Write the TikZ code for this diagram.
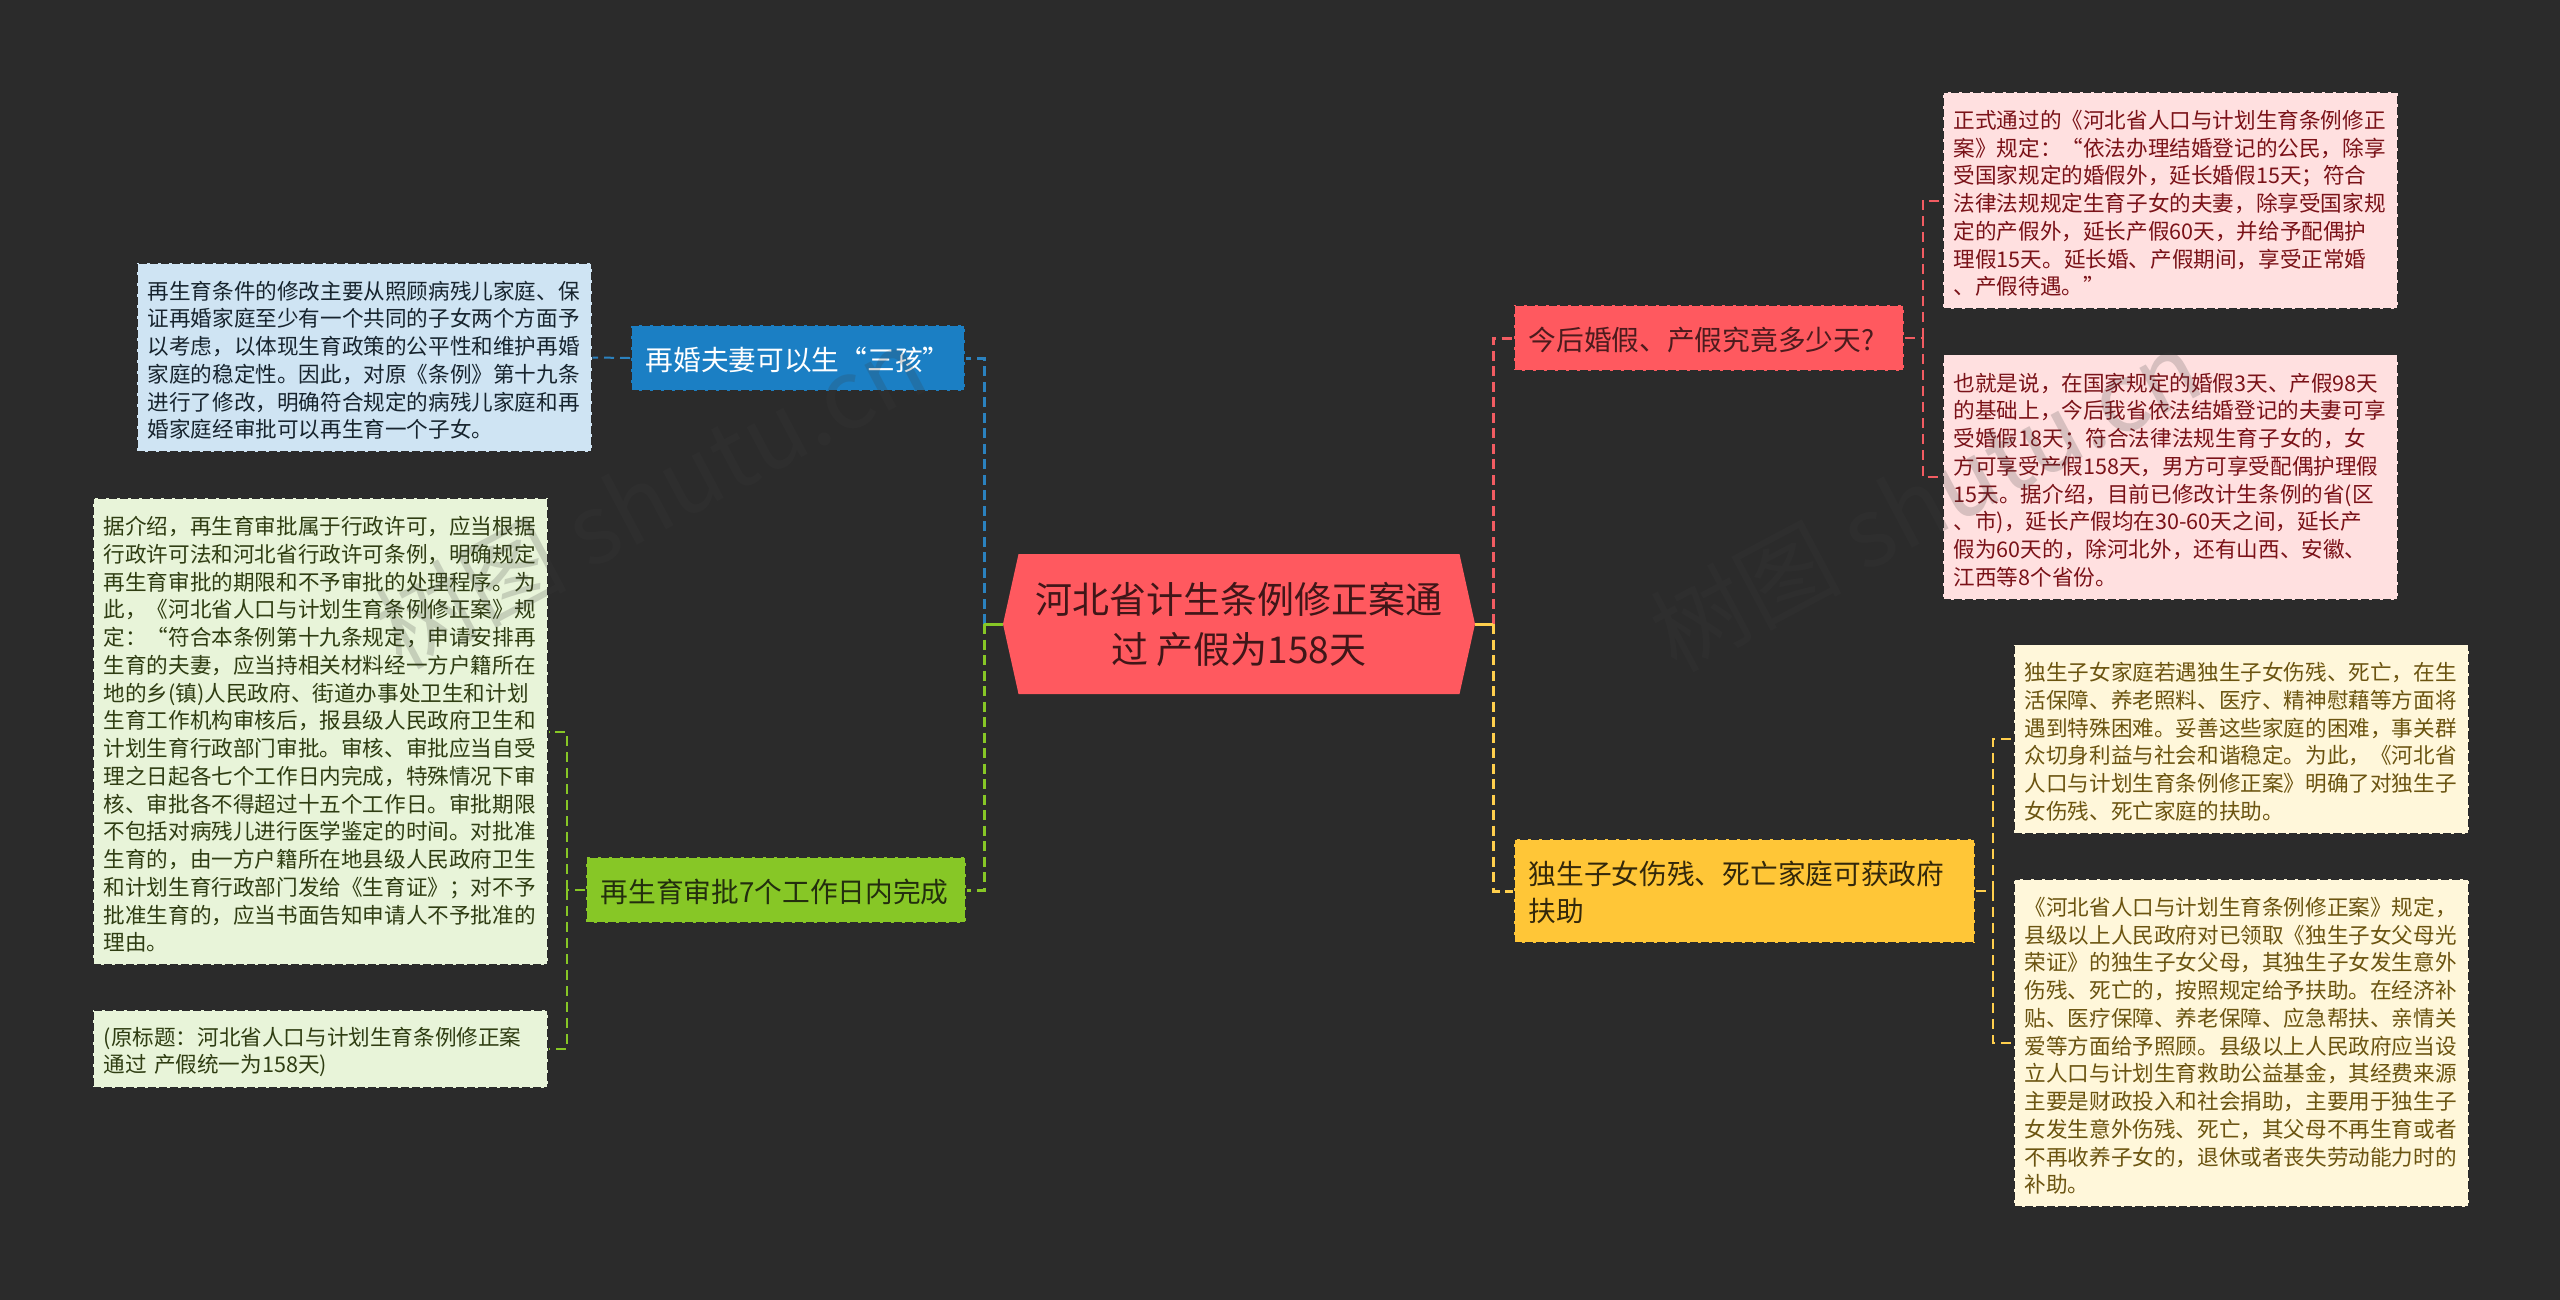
\documentclass[tikz,border=0pt]{standalone}
\usepackage{fontspec}
\setmainfont{Noto Sans CJK SC}
\usetikzlibrary{shapes.symbols}
\definecolor{canvasbg}{HTML}{2B2B2B}
\definecolor{rootred}{HTML}{FF595F}
\definecolor{wireblue}{HTML}{2B82BF}
\definecolor{wiregreen}{HTML}{87C726}
\definecolor{wirered}{HTML}{F25C62}
\definecolor{wireyellow}{HTML}{FFCF4D}
\definecolor{branchblue}{HTML}{1B7FC4}
\definecolor{branchgreen}{HTML}{87C726}
\definecolor{branchyellow}{HTML}{FFC637}
\definecolor{leafblue}{HTML}{CFE4F3}
\definecolor{leafgreen}{HTML}{E8F4D9}
\definecolor{leafred}{HTML}{FFE0E0}
\definecolor{leafyellow}{HTML}{FFF7DA}
\definecolor{inkblue}{HTML}{17242E}
\definecolor{inkgreen}{HTML}{2F3D12}
\definecolor{inkred}{HTML}{7A1218}
\definecolor{inkyellow}{HTML}{6B5410}
\tikzset{
  edgedash/.style={draw=canvasbg, line width=1.5pt, dash pattern=on 8pt off 3pt},
  leafbox/.style={edgedash, fill=#1, anchor=west, align=left, inner xsep=11pt, inner ysep=0pt,
    text width=433pt, font=\fontsize{21.6}{27.75}\selectfont,
    execute at begin node={\rule{0pt}{24pt}}},
  branchbox/.style={edgedash, fill=#1, anchor=west, align=left, inner xsep=15pt, inner ysep=0pt,
    font=\fontsize{27.7}{36.5}\selectfont,
    execute at begin node={\rule{0pt}{26.5pt}}},
  rootbox/.style={signal, signal to=east and west, signal pointer angle=155, fill=rootred,
    inner sep=0pt, align=center, minimum width=472pt, minimum height=140pt,
    font=\fontsize{37}{50}\selectfont},
  wiremain/.style={draw=#1, line width=3pt, dash pattern=on 10pt off 5.5pt},
  wiresub/.style={draw=#1, line width=2pt, dash pattern=on 10pt off 6pt},
  wirestub/.style={draw=#1, line width=3pt},
  stamp/.style={text=black!77, opacity=.2, rotate=28, font=\fontsize{96}{100}\selectfont}
}
\begin{document}
\begin{tikzpicture}[x=1pt, y=-1pt]
  \useasboundingbox (0, 0) rectangle (2560, 1299);
  \fill [canvasbg] (-3, -3) rectangle (2563, 1302);
  \node (root) [rootbox, text=black!75!rootred] at (1239, 624) {河北省计生条例修正案通\\过 产假为158天};

  \node (remarry) [branchbox=branchblue, text=white, text width=304pt, minimum height=66pt] at (630, 358) {再婚夫妻可以生“三孩”};
  \node (approval) [branchbox=branchgreen, text=inkgreen!75!black, text width=350pt, minimum height=66pt] at (585, 890) {再生育审批7个工作日内完成};
  \node (leave) [branchbox=rootred, text=black!70!rootred, text width=360pt, minimum height=66pt] at (1513, 338) {今后婚假、产假究竟多少天?};
  \node (onlychild) [branchbox=branchyellow, text=black!80!branchyellow, text width=431pt, minimum height=104pt] at (1513, 891) {独生子女伤残、死亡家庭可获政府\\扶助};

  \node (remarrytext) [leafbox=leafblue, text=inkblue, minimum height=189pt] at (136, 357.5) {再生育条件的修改主要从照顾病残儿家庭、保\\
证再婚家庭至少有一个共同的子女两个方面予\\
以考虑，以体现生育政策的公平性和维护再婚\\
家庭的稳定性。因此，对原《条例》第十九条\\
进行了修改，明确符合规定的病残儿家庭和再\\
婚家庭经审批可以再生育一个子女。};
  \node (approvaltext) [leafbox=leafgreen, text=inkgreen, minimum height=467pt] at (92, 731.5) {据介绍，再生育审批属于行政许可，应当根据\\
行政许可法和河北省行政许可条例，明确规定\\
再生育审批的期限和不予审批的处理程序。为\\
此，《河北省人口与计划生育条例修正案》规\\
定：“符合本条例第十九条规定，申请安排再\\
生育的夫妻，应当持相关材料经一方户籍所在\\
地的乡(镇)人民政府、街道办事处卫生和计划\\
生育工作机构审核后，报县级人民政府卫生和\\
计划生育行政部门审批。审核、审批应当自受\\
理之日起各七个工作日内完成，特殊情况下审\\
核、审批各不得超过十五个工作日。审批期限\\
不包括对病残儿进行医学鉴定的时间。对批准\\
生育的，由一方户籍所在地县级人民政府卫生\\
和计划生育行政部门发给《生育证》；对不予\\
批准生育的，应当书面告知申请人不予批准的\\
理由。};
  \node (sourcetext) [leafbox=leafgreen, text=inkgreen, minimum height=78pt] at (92, 1049) {(原标题：河北省人口与计划生育条例修正案\\
通过 产假统一为158天)};
  \node (leavetext) [leafbox=leafred, text=inkred, minimum height=217pt] at (1942, 200.5) {正式通过的《河北省人口与计划生育条例修正\\
案》规定：“依法办理结婚登记的公民，除享\\
受国家规定的婚假外，延长婚假15天；符合\\
法律法规规定生育子女的夫妻，除享受国家规\\
定的产假外，延长产假60天，并给予配偶护\\
理假15天。延长婚、产假期间，享受正常婚\\
、产假待遇。”};
  \node (daystext) [leafbox=leafred, text=inkred, minimum height=245pt] at (1942, 477) {也就是说，在国家规定的婚假3天、产假98天\\
的基础上，今后我省依法结婚登记的夫妻可享\\
受婚假18天；符合法律法规生育子女的，女\\
方可享受产假158天，男方可享受配偶护理假\\
15天。据介绍，目前已修改计生条例的省(区\\
、市)，延长产假均在30-60天之间，延长产\\
假为60天的，除河北外，还有山西、安徽、\\
江西等8个省份。};
  \node (hardshiptext) [leafbox=leafyellow, text=inkyellow, minimum height=189pt] at (2013, 739) {独生子女家庭若遇独生子女伤残、死亡，在生\\
活保障、养老照料、医疗、精神慰藉等方面将\\
遇到特殊困难。妥善这些家庭的困难，事关群\\
众切身利益与社会和谐稳定。为此，《河北省\\
人口与计划生育条例修正案》明确了对独生子\\
女伤残、死亡家庭的扶助。};
  \node (supporttext) [leafbox=leafyellow, text=inkyellow, minimum height=328pt] at (2013, 1043) {《河北省人口与计划生育条例修正案》规定，\\
县级以上人民政府对已领取《独生子女父母光\\
荣证》的独生子女父母，其独生子女发生意外\\
伤残、死亡的，按照规定给予扶助。在经济补\\
贴、医疗保障、养老保障、应急帮扶、亲情关\\
爱等方面给予照顾。县级以上人民政府应当设\\
立人口与计划生育救助公益基金，其经费来源\\
主要是财政投入和社会捐助，主要用于独生子\\
女发生意外伤残、死亡，其父母不再生育或者\\
不再收养子女的，退休或者丧失劳动能力时的\\
补助。};

  \coordinate (hubleft) at (984, 624);
  \coordinate (hubright) at (1493, 624);
  \coordinate (approvalfork) at (566.5, 890);
  \coordinate (leavefork) at (1922.5, 338);
  \coordinate (onlychildfork) at (1993, 891);

  \draw [wiremain=wireblue] (hubleft) |- (remarry.east);
  \draw [wiremain=wiregreen] (hubleft) |- (approval.east);
  \draw [wiremain=wirered] (hubright) |- (leave.west);
  \draw [wiremain=wireyellow] (hubright) |- (onlychild.west);
  \draw [wirestub=wiregreen] (root.west) -- (hubleft);
  \draw [wirestub=wireyellow] (root.east) -- (hubright);

  \draw [wiresub=wireblue] (remarry.west) -- (remarrytext.east);
  \draw [wiresub=wiregreen] (approval.west) -- (approvalfork)
        (approvalfork) |- (approvaltext.east)
        (approvalfork) |- (sourcetext.east);
  \draw [wiresub=wirered] (leave.east) -- (leavefork)
        (leavefork) |- (leavetext.west)
        (leavefork) |- (daystext.west);
  \draw [wiresub=wireyellow] (onlychild.east) -- (onlychildfork)
        (onlychildfork) |- (hardshiptext.west)
        (onlychildfork) |- (supporttext.west);

  \node (stampleft) [stamp] at (650, 497) {树图 shutu.cn};
  \node (stampright) [stamp] at (1925, 500) {树图 shutu.cn};
\end{tikzpicture}
\end{document}
